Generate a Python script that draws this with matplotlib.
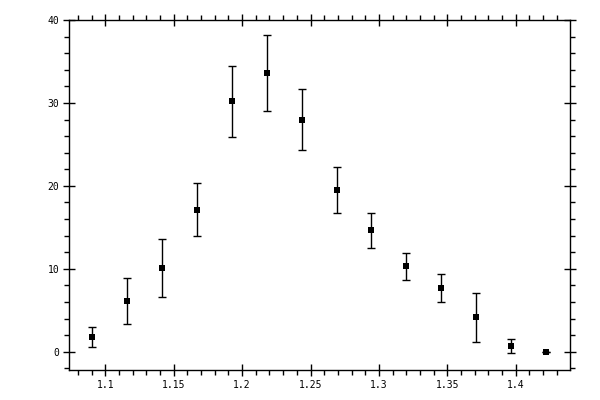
"""Square markers with vertical error bars, boxed axes with ticks on all sides."""
import matplotlib
matplotlib.use('Agg')
import matplotlib.pyplot as plt
from matplotlib.ticker import MultipleLocator, FuncFormatter

# data
x = [1.0905, 1.116, 1.1415, 1.167, 1.1925, 1.218, 1.2435,
     1.269, 1.2945, 1.320, 1.3455, 1.371, 1.3965, 1.422]
y = [1.77, 6.1, 10.1, 17.1, 30.2, 33.6, 28.0,
     19.5, 14.65, 10.3, 7.67, 4.18, 0.68, 0.0]
yerr = [1.2, 2.8, 3.5, 3.2, 4.3, 4.6, 3.7,
        2.75, 2.1, 1.65, 1.7, 2.95, 0.8, 0.0]

fig = plt.figure(figsize=(6, 4), dpi=100)
ax = fig.add_axes([0.115, 0.075, 0.835, 0.875])

ax.errorbar(x, y, yerr=yerr, fmt='none', ecolor='black',
            elinewidth=1, capsize=3, capthick=1)
ax.plot(x, y, 's', color='black', ms=5, mew=0, zorder=3)

ax.set_xlim(1.0735, 1.4396)
ax.set_ylim(-2.2, 40)

ax.xaxis.set_major_locator(MultipleLocator(0.05))
ax.xaxis.set_minor_locator(MultipleLocator(0.01))
ax.yaxis.set_major_locator(MultipleLocator(10))
ax.yaxis.set_minor_locator(MultipleLocator(2))
ax.xaxis.set_major_formatter(FuncFormatter(lambda v, p: '%g' % round(v, 3)))

for s in ax.spines.values():
    s.set_linewidth(1)
ax.tick_params(which='both', top=True, right=True, labeltop=False, labelright=False,
               width=1, color='black')
ax.tick_params(which='major', direction='inout', length=8, pad=3,
               labelsize=7, labelfontfamily='DejaVu Sans Mono')
ax.tick_params(which='minor', direction='out', length=3.5)

fig.savefig('out.png', dpi=100, facecolor='white')
plt.close(fig)
